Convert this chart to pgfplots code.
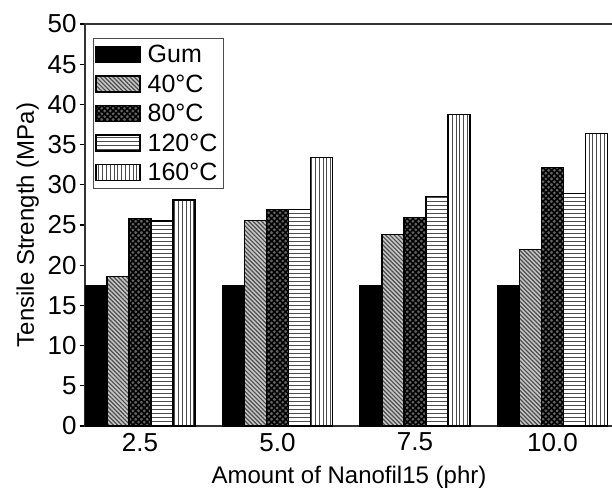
\documentclass[border=0pt]{standalone}
\usepackage{pgfplots}
\pgfplotsset{compat=1.18}
\usepackage{fontspec}
\setmainfont{Liberation Sans}
\usetikzlibrary{patterns.meta}

\begin{document}
\begin{tikzpicture}
\useasboundingbox (-42.5bp,-32bp) rectangle (263.5bp,213bp);
\begin{axis}[
  at={(0,0)}, anchor=south west,
  scale only axis, width=264bp, height=201bp,
  xmin=1.5, xmax=11.1, ymin=0, ymax=50,
  ybar=0pt, bar width=0.4,
  xtick={2.5,5,7.5,10}, xticklabels={2.5,5.0,7.5,10.0},
  ytick={0,5,...,50},
  xtick pos=bottom, ytick pos=left,
  tick align=outside, major tick length=2.5bp,
  major x tick style={draw=none},
  tick style={line width=0.6bp, black},
  axis line style={line width=0.8bp, black!80},
  /pgf/number format/assume math mode=true,
  tick label style={font=\fontsize{13bp}{15bp}\selectfont},
  xticklabel style={yshift=2.5bp},
  yticklabel style={xshift=1.8bp},
  label style={font=\fontsize{12bp}{14bp}\selectfont},
  xlabel={Amount of Nanofil15 (phr)},
  xlabel style={yshift=-0.5bp},
  ylabel={Tensile Strength (MPa)},
  ylabel style={yshift=-2.5bp},
  legend cell align=left,
  legend image code/.code={\draw[#1] (0bp,-4bp) rectangle (22bp,4bp);},
  legend style={at={(axis description cs:0,1)}, anchor=north west,
    xshift=4bp, yshift=-7bp, draw=black!70, line width=0.5bp,
    font=\fontsize{12.5bp}{14bp}\selectfont, row sep=0.75bp,
    column sep=1.5bp, inner sep=1bp,
    nodes={inner sep=2bp, text height=9bp, text depth=1bp}},
  every axis plot/.append style={draw=black, line width=0.6bp},
]
\addplot[fill=black] coordinates {(2.5,17.5) (5,17.5) (7.5,17.5) (10,17.5)};
\addplot[fill=gray!45,
  postaction={pattern={Lines[angle=-45,distance=1.5bp,line width=0.6bp]}, pattern color=black!70}]
  coordinates {(2.5,18.6) (5,25.6) (7.5,23.8) (10,22.0)};
\addplot[fill=black!60,
  postaction={pattern={Lines[angle=45,distance=2bp,line width=0.8bp]}, pattern color=black},
  postaction={pattern={Lines[angle=-45,distance=2bp,line width=0.8bp]}, pattern color=black}]
  coordinates {(2.5,25.8) (5,26.9) (7.5,25.9) (10,32.2)};
\addplot[fill=white,
  postaction={pattern={Lines[angle=0,distance=2bp,line width=0.5bp]}, pattern color=black!70}]
  coordinates {(2.5,25.5) (5,26.9) (7.5,28.5) (10,28.9)};
\addplot[fill=white,
  postaction={pattern={Lines[angle=90,distance=1.9bp,line width=0.5bp]}, pattern color=black!70}]
  coordinates {(2.5,28.1) (5,33.4) (7.5,38.7) (10,36.4)};
\legend{Gum, 40°C, 80°C, 120°C, 160°C}
\end{axis}
\end{tikzpicture}
\end{document}
